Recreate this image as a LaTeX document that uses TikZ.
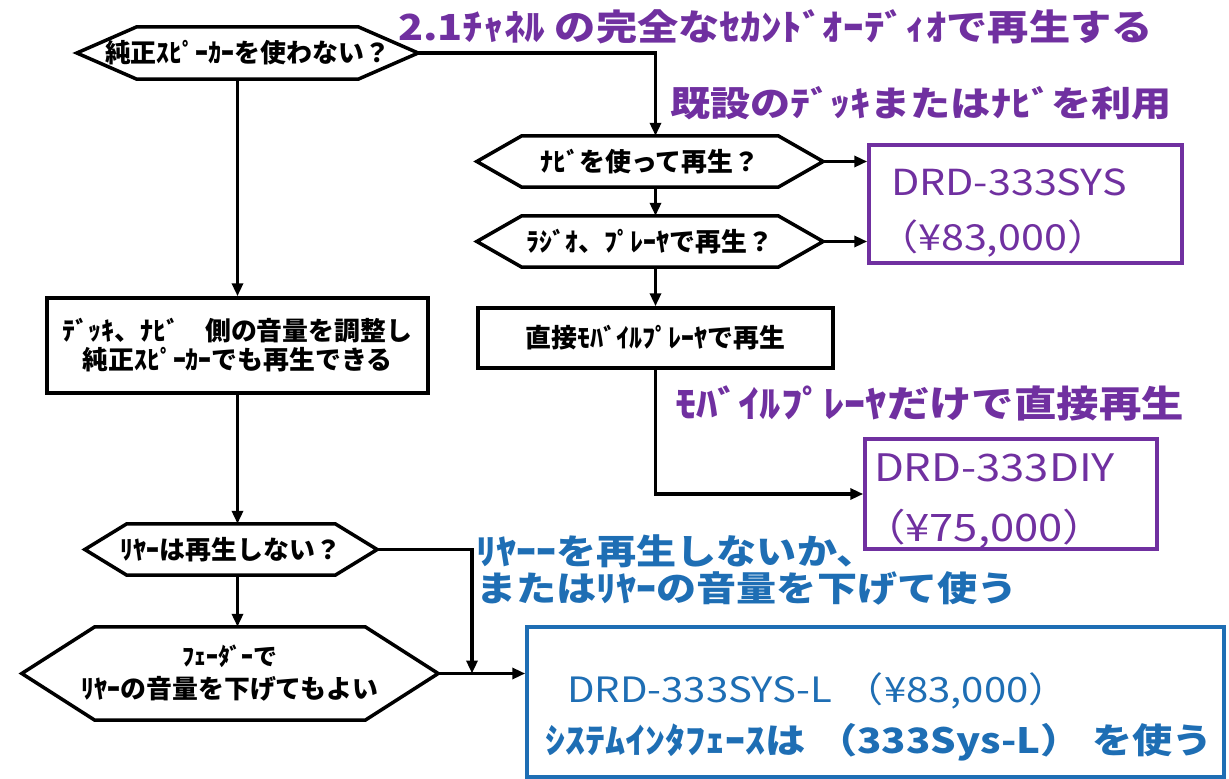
\documentclass[tikz,border=0pt]{standalone}
\usepackage{fontspec}
\setmainfont{Noto Sans CJK JP}
\newfontfamily\jpw{Noto Sans CJK JP}[FakeStretch=1.15]
\usetikzlibrary{arrows.meta}
\definecolor{purp}{RGB}{112,48,160}
\definecolor{blu}{RGB}{30,110,180}
\begin{document}
\begin{tikzpicture}[x=1bp, y=-1bp, >={Triangle[length=13bp,width=11bp]},
    line/.style={line width=3.5bp},
    hexa/.style={inner sep=0pt, align=center, font=\bfseries\fontsize{26}{29}\selectfont},
    blk/.style={draw, line width=3.5bp, inner sep=0pt, align=center, font=\bfseries\fontsize{26}{29}\selectfont},
    pbox/.style={draw=purp, text=purp, line width=3.5bp, inner ysep=0pt, align=left, font=\jpw\fontsize{36}{55}\selectfont},
    plabel/.style={anchor=west, inner sep=0pt, text=purp, font=\jpw\bfseries\fontsize{36}{40}\selectfont}]
\useasboundingbox (0,0) rectangle (1229,779);

\node[hexa, minimum width=341bp, minimum height=52bp] (q1) at (247.5,53) {純正ｽﾋﾟｰｶｰを使わない？};
\node[blk, minimum width=381bp, minimum height=95bp] (b1) at (237.5,345.5) {ﾃﾞｯｷ、ﾅﾋﾞ　側の音量を調整し\\純正ｽﾋﾟｰｶｰでも再生できる};
\node[hexa, minimum width=292bp, minimum height=51bp] (q5) at (231,549.5) {ﾘﾔｰは再生しない？};
\node[hexa, minimum width=416bp, minimum height=93bp] (q6) at (230,673.5) {{\fontsize{24}{26}\selectfont ﾌｪｰﾀﾞｰで}\\[4bp]ﾘﾔｰの音量を下げてもよい};

\node[hexa, minimum width=346bp, minimum height=51bp] (q2) at (650,161.5) {ﾅﾋﾞを使って再生？};
\node[hexa, minimum width=346bp, minimum height=51bp] (q3) at (650,241.5) {ﾗｼﾞｵ、ﾌﾟﾚｰﾔで再生？};
\node[blk, minimum width=355bp, minimum height=60bp] (b4) at (655.5,338) {直接ﾓﾊﾞｲﾙﾌﾟﾚｰﾔで再生};

\node[pbox, minimum width=313bp, minimum height=118bp, inner xsep=22bp, text width=269bp] (s1) at (1025.5,204) {\rule{0pt}{45bp}DRD-333SYS\\\hspace*{-14bp}（¥83,000）};
\node[pbox, font=\jpw\fontsize{38}{61}\selectfont, minimum width=292bp, minimum height=98bp, inner xsep=9bp, text width=274bp] (s2) at (1011,494) {\rule{0pt}{42bp}DRD-333DIY\\\hspace*{-12bp}（¥75,000）};
\node[draw=blu, line width=3.5bp, text=blu, align=left, inner xsep=8bp, inner ysep=0pt, text width=681bp, minimum height=150bp, font=\jpw\fontsize{35}{51}\selectfont] (s3) at (875.5,702) {\rule{0pt}{60bp}\hspace*{32bp}DRD-333SYS-L~（¥83,000）\\\hspace*{10bp}\bfseries ｼｽﾃﾑｲﾝﾀﾌｪｰｽは~（333Sys-L）~を使う};

\node[plabel] (t1) at (398,27) {2.1ﾁｬﾈﾙ の完全なｾｶﾝﾄﾞｵｰﾃﾞｨｵで再生する};
\node[plabel, font=\jpw\bfseries\fontsize{35}{40}\selectfont] (t2) at (670,103) {既設のﾃﾞｯｷまたはﾅﾋﾞを利用};
\node[plabel, font=\jpw\bfseries\fontsize{37}{40}\selectfont] (t3) at (675,403) {ﾓﾊﾞｲﾙﾌﾟﾚｰﾔだけで直接再生};
\node[plabel, text=blu, align=left, font=\jpw\bfseries\fontsize{35}{38}\selectfont] (t4) at (476,570) {ﾘﾔｰｰを再生しないか、\\またはﾘﾔｰの音量を下げて使う};

\foreach \n/\t in {q1/60bp,q2/45bp,q3/45bp,q5/42bp,q6/73bp}
    \draw[line] (\n.west) -- ([xshift=\t]\n.north west) -- ([xshift=-\t]\n.north east) -- (\n.east) -- ([xshift=-\t]\n.south east) -- ([xshift=\t]\n.south west) -- cycle;

\draw[line,->] (q1.south -| b1.north) -- (b1.north);
\draw[line,->] (b1.south) -- (b1.south |- q5.north);
\draw[line,->] (q5.south -| b1.south) -- (b1.south |- q6.north);
\draw[line,->] (q1.east) -| (b4.north |- q2.north);
\draw[line,->] (q2.south -| b4.north) -- (b4.north |- q3.north);
\draw[line,->] (q3.south -| b4.north) -- (b4.north);
\draw[line,->] (q2.east) -- (q2.east -| s1.west);
\draw[line,->] (q3.east) -- (q3.east -| s1.west);
\draw[line,->] (b4.south) |- (s2.west);
\coordinate (j) at (472,673.5);
\draw[line,->] (q5.east) -| (j);
\draw[line,->] (q6.east) -- (q6.east -| s3.west);
\end{tikzpicture}
\end{document}
